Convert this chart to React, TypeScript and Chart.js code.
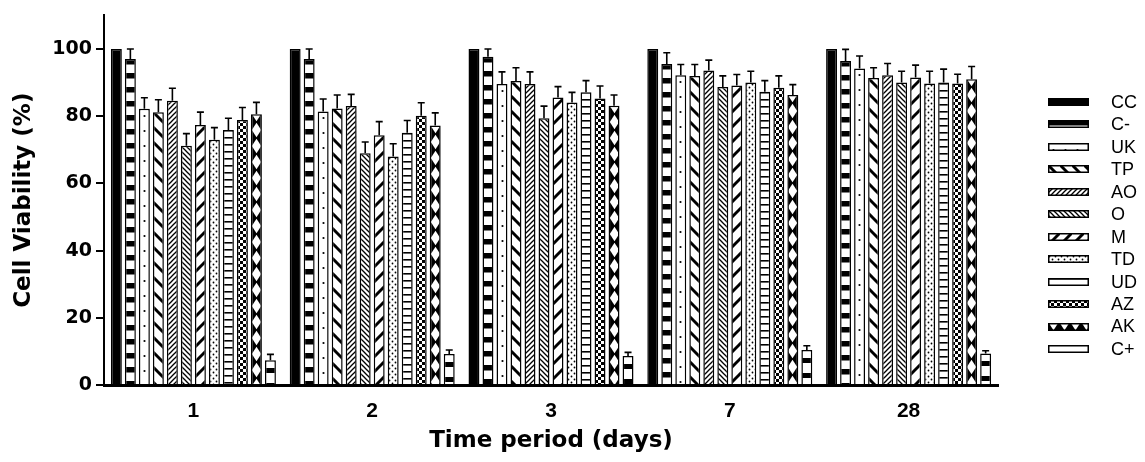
import React, { useEffect, useRef } from 'react';
import { Chart, registerables } from 'chart.js';

Chart.register(...registerables);

// ---------- data ----------
const categories = ['1', '2', '3', '7', '28'];
const seriesLabels = ['CC', 'C-', 'UK', 'TP', 'AO', 'O', 'M', 'TD', 'UD', 'AZ', 'AK', 'C+'];

const valuesCC = [100, 100, 100, 100, 100];
const valuesCMinus = [97.0, 97.0, 97.7, 95.5, 96.4];
const valuesUK = [82.2, 81.4, 89.6, 92.2, 94.2];
const valuesTP = [81.2, 82.3, 90.5, 92.0, 91.4];
const valuesAO = [84.6, 83.0, 89.6, 93.6, 92.2];
const valuesO = [71.2, 69.0, 79.4, 88.7, 90.0];
const valuesM = [77.4, 74.3, 85.6, 89.1, 91.5];
const valuesTD = [73.0, 68.0, 84.1, 90.0, 89.7];
const valuesUD = [75.9, 75.1, 87.1, 87.3, 90.0];
const valuesAZ = [78.9, 80.1, 85.3, 88.5, 89.7];
const valuesAK = [80.6, 77.2, 83.1, 86.3, 91.0];
const valuesCPlus = [7.4, 9.2, 8.6, 10.4, 9.4];

const errCC = [0, 0, 0, 0, 0];
const errCMinus = [3.0, 3.0, 2.3, 3.4, 3.5];
const errUK = [3.3, 3.7, 3.6, 3.2, 3.7];
const errTP = [3.7, 4.0, 3.9, 3.4, 3.0];
const errAO = [3.7, 3.5, 3.6, 3.1, 3.5];
const errO = [3.6, 3.3, 3.6, 3.3, 3.4];
const errM = [3.8, 4.1, 3.2, 3.3, 3.7];
const errTD = [3.6, 3.8, 3.0, 3.4, 3.7];
const errUD = [3.5, 3.6, 3.5, 3.3, 4.0];
const errAZ = [3.7, 3.9, 3.7, 3.5, 2.8];
const errAK = [3.5, 3.8, 3.2, 3.1, 3.8];
const errCPlus = [1.7, 1.2, 1.1, 1.3, 0.8];

const yTickValues = [0, 20, 40, 60, 80, 100];

const seriesValues = [valuesCC, valuesCMinus, valuesUK, valuesTP, valuesAO, valuesO, valuesM, valuesTD, valuesUD, valuesAZ, valuesAK, valuesCPlus];
const seriesErrors = [errCC, errCMinus, errUK, errTP, errAO, errO, errM, errTD, errUD, errAZ, errAK, errCPlus];

// ---------- styles ----------
const patternKinds = ['solid', 'bands', 'dots', 'backThick', 'fwdThin', 'backThin', 'fwdThick', 'stipple', 'hlines', 'checker', 'xcross', 'bandsLow'];

function makeTile(kind: string): HTMLCanvasElement {
  const c = document.createElement('canvas');
  let w = 12, h = 15;
  const dims: Record<string, [number, number]> = {
    bands: [12, 14], dots: [12, 15], backThick: [12, 15], fwdThick: [12, 15],
    fwdThin: [5, 5], backThin: [5, 5], stipple: [6, 6], hlines: [4, 7],
    checker: [6, 6], xcross: [11, 16], bandsLow: [12, 15],
  };
  if (dims[kind]) { w = dims[kind][0]; h = dims[kind][1]; }
  c.width = w; c.height = h;
  const g = c.getContext('2d')!;
  g.fillStyle = '#fff';
  g.fillRect(0, 0, w, h);
  g.fillStyle = '#000';
  g.strokeStyle = '#000';
  const line = (x1: number, y1: number, x2: number, y2: number) => {
    g.beginPath(); g.moveTo(x1, y1); g.lineTo(x2, y2); g.stroke();
  };
  switch (kind) {
    case 'bands':
      g.fillRect(0, 0, w, 5.5);
      break;
    case 'bandsLow':
      g.fillRect(0, 8, w, 5);
      break;
    case 'dots':
      g.beginPath(); g.arc(5.5, 7, 1.1, 0, Math.PI * 2); g.fill();
      break;
    case 'backThick':
      g.lineWidth = 3;
      for (const k of [-15, 0, 15]) line(-1, k - 1, 13, k + 13);
      break;
    case 'fwdThick':
      g.lineWidth = 3;
      for (const k of [-15, 0, 15]) line(-1, k + 13, 13, k - 1);
      break;
    case 'fwdThin':
      g.lineWidth = 1.3;
      line(-1, 6, 6, -1); line(-1, 1, 1, -1); line(4, 6, 6, 4);
      break;
    case 'backThin':
      g.lineWidth = 1.3;
      line(-1, -1, 6, 6); line(4, -1, 6, 1); line(-1, 4, 1, 6);
      break;
    case 'stipple':
      g.beginPath(); g.arc(1.5, 1.5, 0.9, 0, Math.PI * 2); g.fill();
      g.beginPath(); g.arc(4.5, 4.5, 0.9, 0, Math.PI * 2); g.fill();
      break;
    case 'hlines':
      g.fillRect(0, 0, w, 1.6);
      break;
    case 'checker':
      g.fillRect(0, 0, 3, 3); g.fillRect(3, 3, 3, 3);
      break;
    case 'xcross':
      g.fillRect(0, 0, w, h);
      g.fillStyle = '#fff';
      for (const cy of [0, 16]) {
        g.beginPath();
        g.moveTo(5.5, cy - 7.2); g.lineTo(10.2, cy); g.lineTo(5.5, cy + 7.2); g.lineTo(0.8, cy);
        g.closePath(); g.fill();
      }
      break;
  }
  return c;
}

const titleFont = '"DejaVu Sans", sans-serif';

export default function App() {
  const canvasRef = useRef<HTMLCanvasElement | null>(null);

  useEffect(() => {
    const canvas = canvasRef.current;
    if (!canvas) return;
    const ctx = canvas.getContext('2d')!;
    const tiles: Record<string, HTMLCanvasElement> = {};
    patternKinds.forEach((k) => { if (k !== 'solid') tiles[k] = makeTile(k); });

    const datasets = seriesLabels.map((label, i) => {
      const kind = patternKinds[i];
      const bg = categories.map(() => (kind === 'solid' ? '#000000' : ctx.createPattern(tiles[kind], 'repeat')));
      return {
        label,
        data: seriesValues[i],
        backgroundColor: bg as any,
        borderColor: '#000000',
        borderWidth: 1.5,
        barPercentage: 0.78,
        categoryPercentage: 0.94,
      };
    });

    const alignPatterns = {
      id: 'alignPatterns',
      beforeDatasetsDraw(chart: any) {
        chart.data.datasets.forEach((ds: any, i: number) => {
          const meta = chart.getDatasetMeta(i);
          meta.data.forEach((el: any, j: number) => {
            const bg = ds.backgroundColor[j];
            if (bg && typeof bg !== 'string' && bg.setTransform) {
              bg.setTransform(new DOMMatrix().translate(Math.round(el.x - el.width / 2), Math.round(el.y)));
            }
          });
        });
      },
    };

    const errorBars = {
      id: 'errorBars',
      afterDatasetsDraw(chart: any) {
        const c = chart.ctx;
        const ys = chart.scales.y;
        c.save();
        c.strokeStyle = '#000';
        c.lineWidth = 1.6;
        chart.data.datasets.forEach((ds: any, i: number) => {
          const meta = chart.getDatasetMeta(i);
          const errs = seriesErrors[i];
          meta.data.forEach((el: any, j: number) => {
            const e = errs[j];
            if (!e) return;
            const yTop = ys.getPixelForValue(ds.data[j] + e);
            c.beginPath();
            c.moveTo(el.x, el.y);
            c.lineTo(el.x, yTop);
            c.moveTo(el.x - 3.5, yTop);
            c.lineTo(el.x + 3.5, yTop);
            c.stroke();
          });
        });
        c.restore();
      },
    };

    const sideLegend = {
      id: 'sideLegend',
      afterDraw(chart: any) {
        const c = chart.ctx;
        const x0 = 1048, bw = 41, bh = 8, top = 102, step = 22.45;
        c.save();
        chart.data.datasets.forEach((ds: any, i: number) => {
          const cy = top + i * step;
          const by = Math.round(cy - bh / 2);
          const kind = patternKinds[i];
          let fill: any = '#000';
          if (kind !== 'solid') {
            const p = c.createPattern(tiles[kind], 'repeat');
            p.setTransform(new DOMMatrix().translate(x0, by));
            fill = p;
          }
          c.fillStyle = fill;
          c.fillRect(x0, by, bw, bh);
          c.strokeStyle = '#000';
          c.lineWidth = 1.5;
          c.strokeRect(x0 + 0.75, by + 0.75, bw - 1.5, bh - 1.5);
          c.fillStyle = '#000';
          c.font = '18px "Liberation Sans", Arial, sans-serif';
          c.textAlign = 'left';
          c.textBaseline = 'middle';
          c.fillText(ds.label, 1111, cy + 1);
        });
        c.restore();
      },
    };

    const chart = new Chart(canvas, {
      type: 'bar',
      data: { labels: categories, datasets },
      options: {
        responsive: false,
        animation: false,
        devicePixelRatio: 1,
        events: [],
        layout: { padding: { left: 0, right: 147, top: 12, bottom: 0 } },
        plugins: { legend: { display: false }, tooltip: { enabled: false } },
        scales: {
          x: {
            grid: { display: false },
            border: { display: true, color: '#000', width: 3, z: 1 } as any,
            ticks: { color: '#000', padding: 6, font: { family: '"Liberation Sans", Arial, sans-serif', size: 21, weight: 'bold' } },
            title: {
              display: true,
              text: 'Time period (days)',
              color: '#000',
              font: { family: titleFont, size: 23, weight: 'bold' },
              padding: { top: 0, bottom: 7 },
            },
            afterFit: (s: any) => { s.height = 77; },
          },
          y: {
            min: 0,
            max: 110,
            afterBuildTicks: (s: any) => { s.ticks = yTickValues.map((v) => ({ value: v })); },
            ticks: { color: '#000', padding: 4, font: { family: '"DejaVu Sans", sans-serif', size: 19, weight: 'bold' } },
            grid: { drawOnChartArea: false, drawTicks: true, tickLength: 8, color: '#000', lineWidth: 2 },
            border: { display: true, color: '#000', width: 2, z: 1 } as any,
            title: {
              display: true,
              text: 'Cell Viability (%)',
              color: '#000',
              font: { family: titleFont, size: 23, weight: 'bold' },
              padding: { top: 10, bottom: 0 },
            },
            afterFit: (s: any) => { s.width = 104; },
          },
        },
      },
      plugins: [alignPatterns, errorBars, sideLegend],
    });

    return () => { chart.destroy(); };
  }, []);

  return (
    <div style={{ position: 'fixed', left: 0, top: 0, width: 1145, height: 462, background: '#fff' }}>
      <canvas ref={canvasRef} width={1145} height={462} style={{ width: 1145, height: 462, display: 'block' }} />
    </div>
  );
}
